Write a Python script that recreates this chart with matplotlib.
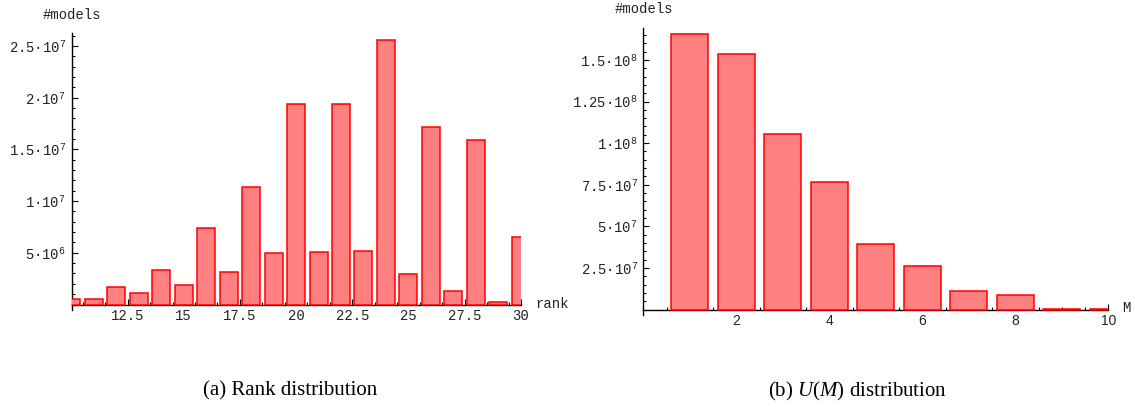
import matplotlib
matplotlib.use("Agg")
import matplotlib.pyplot as plt
import numpy as np
from matplotlib.ticker import FixedLocator, MultipleLocator

plt.rcParams["mathtext.fontset"] = "custom"
plt.rcParams["mathtext.rm"] = "Liberation Serif"
plt.rcParams["mathtext.it"] = "Liberation Serif:italic"
plt.rcParams["mathtext.tt"] = "Liberation Mono"

# data
rank = np.arange(10, 31)
rank_models = [0.5e6, 0.5e6, 1.66e6, 1.08e6, 3.37e6, 1.86e6, 7.4e6, 3.14e6,
               11.36e6, 4.95e6, 19.36e6, 5.05e6, 19.36e6, 5.14e6, 25.6e6,
               2.92e6, 17.2e6, 1.34e6, 15.9e6, 0.24e6, 6.56e6]

m_vals = np.arange(1, 11)
m_models = [1.653e8, 1.533e8, 1.052e8, 7.69e7, 3.94e7, 2.64e7, 1.1e7,
            8.6e6, 0.6e6, 0.5e6]

rank_yticks = [5e6, 1e7, 1.5e7, 2e7, 2.5e7]
rank_ylabels = ["5·10^{6}", "1·10^{7}", "1.5·10^{7}", "2·10^{7}", "2.5·10^{7}"]
rank_xticks = [12.5, 15, 17.5, 20, 22.5, 25, 27.5, 30]
rank_xlabels = ["12.5", "15", "17.5", "20", "22.5", "25", "27.5", "30"]

m_yticks = [2.5e7, 5e7, 7.5e7, 1e8, 1.25e8, 1.5e8]
m_ylabels = ["2.5·10^{7}", "5·10^{7}", "7.5·10^{7}", "1·10^{8}",
             "1.25·10^{8}", "1.5·10^{8}"]
m_xticks = [2, 4, 6, 8, 10]

W, H = 1135, 407
fig = plt.figure(figsize=(W / 100, H / 100), dpi=100)


def place(x0, x1, y_lo, y_hi):
    # pixel box -> figure rect
    return [x0 / W, 1 - y_lo / H, (x1 - x0) / W, (y_lo - y_hi) / H]


def style(ax, xlim, ylim, xmajor, xminor, ymajor, yminor):
    ax.set_xlim(*xlim)
    ax.set_ylim(*ylim)
    for s in ["top", "right"]:
        ax.spines[s].set_visible(False)
    ax.spines["bottom"].set_position(("data", 0))
    for s in ["bottom", "left"]:
        ax.spines[s].set_linewidth(1.0)
        ax.spines[s].set_zorder(0.5)
    ax.set_axisbelow(True)
    ax.xaxis.set_major_locator(FixedLocator(xmajor))
    ax.xaxis.set_minor_locator(MultipleLocator(xminor))
    ax.yaxis.set_major_locator(FixedLocator(ymajor))
    ax.yaxis.set_minor_locator(MultipleLocator(yminor))
    ax.tick_params(which="both", direction="in", width=0.8, color="black")
    ax.tick_params(which="major", length=4)
    ax.tick_params(which="minor", length=2)
    ax.tick_params(axis="x", pad=3)
    ax.tick_params(axis="y", pad=4)


bar_kw = dict(width=0.8, color="#ff8080", edgecolor="#ff0000",
              linewidth=1.1, zorder=2)

# (a) rank distribution
ax1 = fig.add_axes(place(71.5, 520.7, 310.2, 33))
ax1.bar(rank, rank_models, **bar_kw)
style(ax1, (10, 30), (-0.55e6, 26.26e6), rank_xticks, 0.5, rank_yticks, 1e6)
ax1.set_yticklabels([r"$\mathtt{" + s + "}$" for s in rank_ylabels],
                    family="Liberation Mono", fontsize=10, color="#222222")
ax1.set_xticklabels(rank_xlabels, family="Liberation Mono", fontsize=10,
                    color="#222222")
fig.text(43 / W, 1 - 15 / H, "#models", family="Liberation Mono",
         fontsize=10, va="center", color="#222222")
fig.text(535 / W, 1 - 304 / H, "rank", family="Liberation Mono",
         fontsize=10, va="center", color="#222222")

# (b) U(M) distribution
ax2 = fig.add_axes(place(643.3, 1108.3, 315, 28.3))
ax2.bar(m_vals, m_models, **bar_kw)
style(ax2, (0, 10), (-3.3e6, 1.69e8), m_xticks, 0.5, m_yticks, 5e6)
ax2.set_yticklabels([r"$\mathtt{" + s + "}$" for s in m_ylabels],
                    family="Liberation Mono", fontsize=10, color="#222222")
ax2.set_xticklabels([str(v) for v in m_xticks], family="Liberation Sans",
                    fontsize=10, color="#222222")
fig.text(615 / W, 1 - 9 / H, "#models", family="Liberation Mono",
         fontsize=10, va="center", color="#222222")
fig.text(1122 / W, 1 - 308 / H, "M", family="Liberation Mono",
         fontsize=10, va="center", color="#222222")

fig.text(290 / W, 1 - 391 / H, "(a) Rank distribution",
         family="Liberation Serif", fontsize=15, ha="center", va="center")
fig.text(858 / W, 1 - 391 / H, r"(b) $U(M)$ distribution",
         family="Liberation Serif", fontsize=15, ha="center", va="center")

fig.savefig("out.png", dpi=100)
